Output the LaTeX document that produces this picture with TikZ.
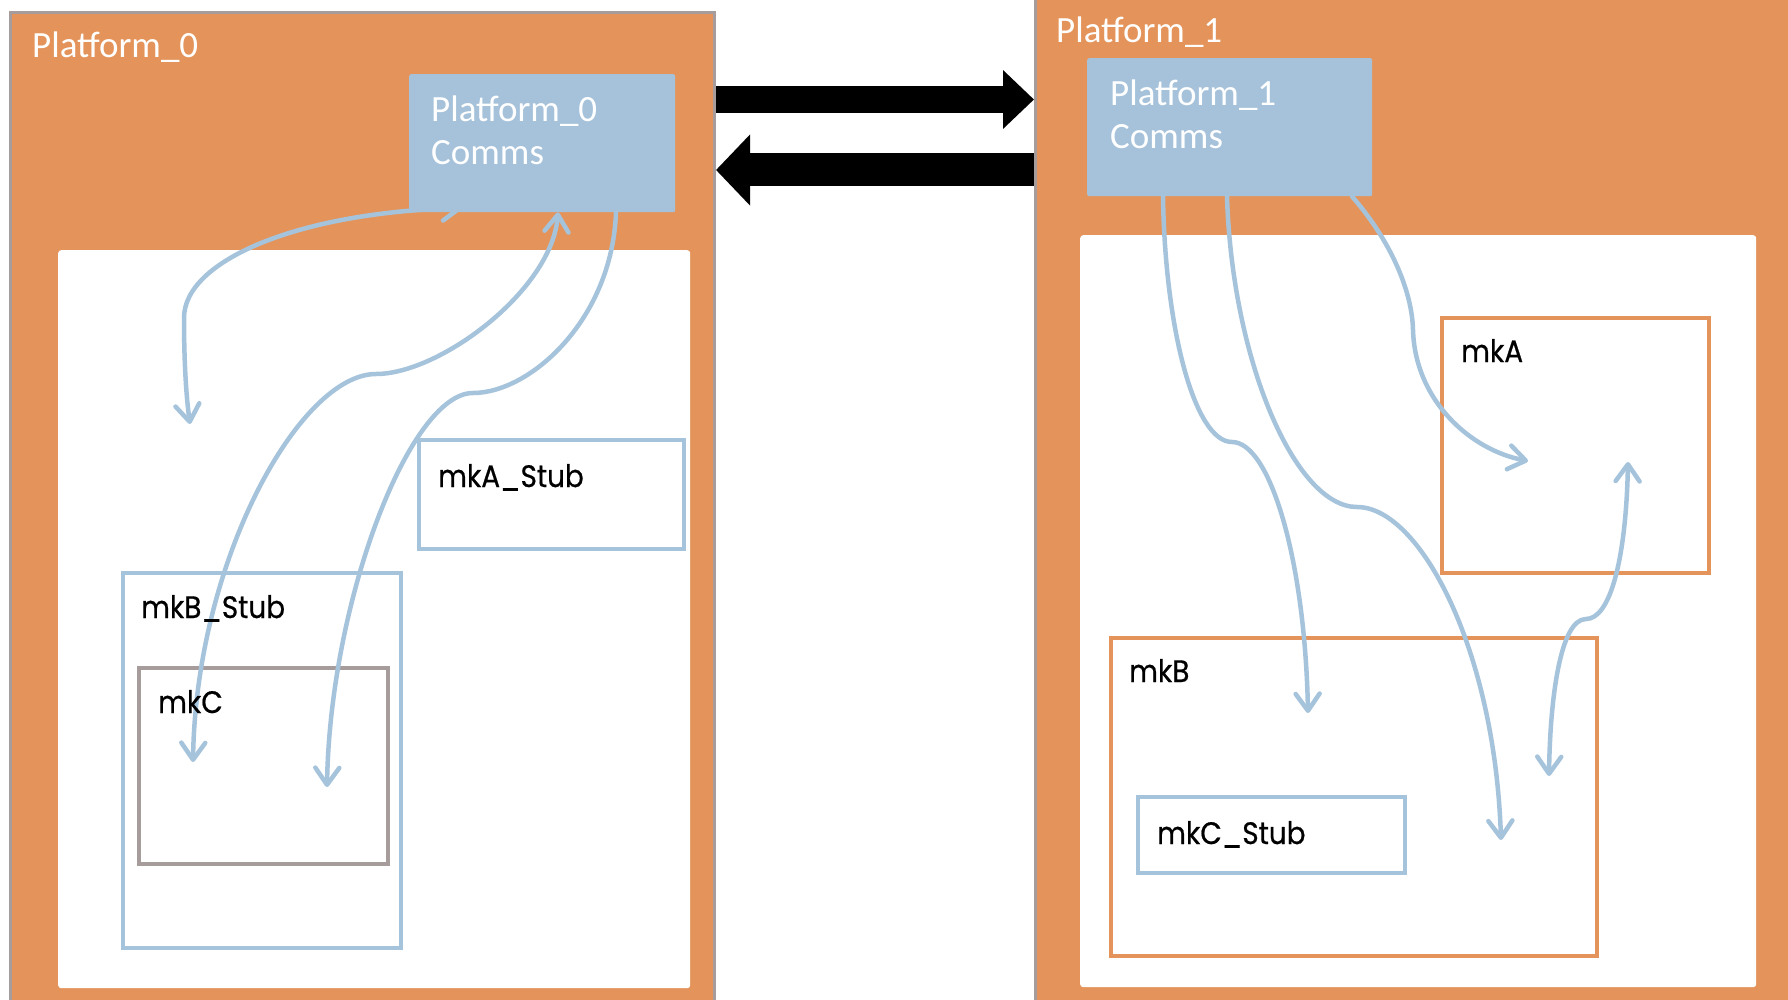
\documentclass[tikz,border=0pt]{standalone}
\usepackage{fontspec}
\newfontfamily\platfont{Carlito}
\newfontfamily\mkfont[FakeStretch=0.9,FakeBold=0.6]{Poppins}
\usetikzlibrary{arrows.meta,calc}

\definecolor{platorange}{RGB}{228,148,90}
\definecolor{edgegrey}{RGB}{166,156,156}
\definecolor{commsblue}{RGB}{166,194,218}
\definecolor{linkblue}{RGB}{166,195,220}

\begin{document}
\begin{tikzpicture}[x=1pt,y=-1pt,
  platform/.style={draw=edgegrey, line width=3pt, fill=platorange, anchor=north west, inner sep=0pt},
  panel/.style={fill=white, rounded corners=3pt, anchor=north west, inner sep=0pt},
  comms/.style={fill=commsblue, rounded corners=2pt, anchor=north west, inner sep=0pt},
  stub/.style={draw=linkblue, line width=4pt, anchor=north west, inner sep=0pt},
  module/.style={draw=platorange, line width=4pt, anchor=north west, inner sep=0pt},
  hosted/.style={draw=edgegrey, line width=4pt, anchor=north west, inner sep=0pt},
  whitetext/.style={text=white, font=\platfont\fontsize{37}{43}\selectfont, anchor=base west, align=left, inner sep=0pt},
  blacktext/.style={text=black, font=\mkfont\fontsize{31}{36}\selectfont, anchor=base west, inner sep=0pt},
  barb/.tip={Straight Barb[length=17pt,width=24pt,round]},
  link/.style={draw=linkblue, line width=4.5pt, line cap=round, -barb},
  linkboth/.style={draw=linkblue, line width=4.5pt, line cap=round, barb-barb},
  bigright/.style={draw=black, line width=27pt, -{Triangle[length=31pt,width=57pt]}},
  bigleft/.style={draw=black, line width=33pt, -{Triangle[length=34pt,width=69pt]}}
]
\useasboundingbox (0,0) rectangle (1788,1000);
\clip (0,0) rectangle (1788,1000);

% platform frames and their white work areas
\node[platform, minimum width=704pt, minimum height=1000pt] (P0) at (9,11) {};
\node[platform, minimum width=760pt, minimum height=1010pt] (P1) at (1034,-5) {};
\node[panel, minimum width=632pt, minimum height=738pt] (W0) at (58,250) {};
\node[panel, minimum width=676pt, minimum height=752pt] (W1) at (1080,235) {};

% modules and stubs
\node[stub, minimum width=265pt, minimum height=109pt] (AS) at (417,438) {};
\node[stub, minimum width=278pt, minimum height=375pt] (BS) at (121,571) {};
\node[hosted, minimum width=249pt, minimum height=196pt] (MC) at (137,666) {};
\node[module, minimum width=267pt, minimum height=255pt] (MA) at (1440,316) {};
\node[module, minimum width=486pt, minimum height=318pt] (MB) at (1109,636) {};
\node[stub, minimum width=267pt, minimum height=76pt] (CS) at (1136,795) {};

% inter-platform link
\draw[bigright] (P0.east |- 0,99.5) -- (P1.west |- 0,99.5);
\draw[bigleft] (P1.west |- 0,170) -- (P0.east |- 0,170);

% free ends of the message routes
\coordinate (l1a) at (462,208);
\coordinate (l1b) at (190,424);
\coordinate (l2b) at (193,762);
\coordinate (l3b) at (327,787);
\coordinate (r1b) at (1308,713);
\coordinate (r2b) at (1501,840);
\coordinate (r3b) at (1528,461);
\coordinate (r4a) at (1628,462);
\coordinate (r4b) at (1549,776);

% route whose far end tucks under the Platform_0 comms unit
\draw[linkboth] (l1a) .. controls (300,212) and (184,260) .. (184,318)
  .. controls (184,360) and (186,395) .. (l1b);

% comms units
\node[comms, minimum width=266pt, minimum height=138pt] (C0) at (409,74) {};
\node[comms, minimum width=285pt, minimum height=138pt] (C1) at (1087,58) {};

% message routes on Platform_0
\draw[linkboth] (C0.south -| 558,0) .. controls (552,290) and (440,374) .. (376,374)
  .. controls (300,374) and (196,560) .. (l2b);
\draw[link] (C0.south -| 616,0) .. controls (612,320) and (530,393) .. (473,393)
  .. controls (410,393) and (330,600) .. (l3b);

% message routes on Platform_1
\draw[link] (C1.south -| 1163,0) .. controls (1165,330) and (1195,442) .. (1232,442)
  .. controls (1270,442) and (1305,560) .. (r1b);
\draw[link] (C1.south -| 1227,0) .. controls (1232,360) and (1295,507) .. (1357,507)
  .. controls (1420,507) and (1495,650) .. (r2b);
\draw[link] (C1.south -| 1352,0) .. controls (1390,240) and (1412,290) .. (1413,330)
  .. controls (1415,400) and (1470,450) .. (r3b);
\draw[linkboth] (r4a) .. controls (1626,560) and (1610,619) .. (1586,619)
  .. controls (1560,619) and (1550,700) .. (r4b);

% labels
\node[whitetext] (t0) at (32,58) {Platform\_0};
\node[whitetext] (t1) at (1056,43) {Platform\_1};
\node[whitetext] (tc0) at (431,165) {Platform\_0\\Comms};
\node[whitetext] (tc1) at (1110,149) {Platform\_1\\Comms};
\node[blacktext] (tAS) at (438,487) {mkA\_Stub};
\node[blacktext] (tBS) at (141,618) {mkB\_Stub};
\node[blacktext] (tMC) at (158,713) {mkC};
\node[blacktext] (tMA) at (1461,362) {mkA};
\node[blacktext] (tMB) at (1129,682) {mkB};
\node[blacktext] (tCS) at (1157,844) {mkC\_Stub};
\end{tikzpicture}
\end{document}
